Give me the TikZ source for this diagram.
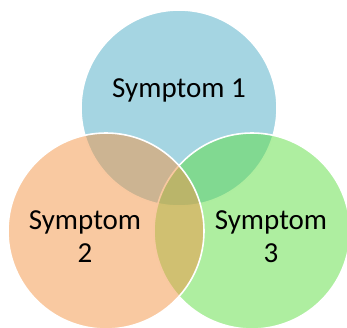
\documentclass[tikz,border=0pt]{standalone}
\usepackage{fontspec}
\setmainfont{Carlito}
\definecolor{symblue}{RGB}{75,171,197}
\definecolor{symorange}{RGB}{243,147,67}
\definecolor{symgreen}{RGB}{93,221,65}
\begin{document}
\begin{tikzpicture}[x=1pt,y=-1pt]
% Configurable parameters
\def\r{98}
\def\lw{1.6pt}

% Styles
\tikzstyle{symptom circle}=[draw=white,line width=\lw,fill opacity=0.5]
\tikzstyle{symptom label}=[align=center,font=\fontsize{29}{33}\selectfont,inner sep=0pt]

% Page.
\useasboundingbox (0,0) rectangle (347,327);

% Coordinates and points.
\coordinate (C1) at (179,108);	% Centre of the top circle.
\coordinate (C2) at (106,231);	% Centre of the left circle.
\coordinate (C3) at (252,231);	% Centre of the right circle.

% The circles
\draw[symptom circle,fill=symblue] (C1) circle (\r);
\draw[symptom circle,fill=symgreen] (C3) circle (\r);
\draw[symptom circle,fill=symorange] (C2) circle (\r);

% Labels.
\node[symptom label,anchor=base] (s1) at (179,97) {Symptom 1};
\node[symptom label] (s2) at (85,237) {Symptom\\2};
\node[symptom label] (s3) at (271,237) {Symptom\\3};
\end{tikzpicture}
\end{document}
